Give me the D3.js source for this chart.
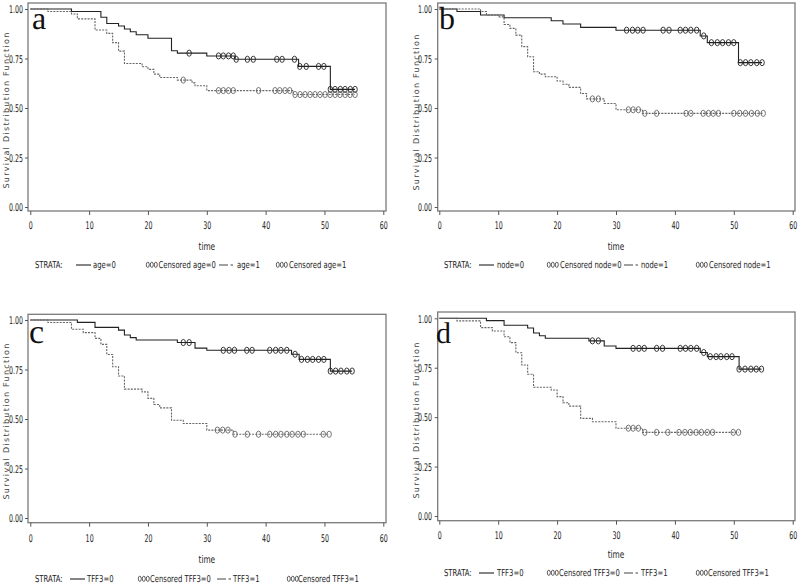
<!DOCTYPE html>
<html>
<head>
<meta charset="utf-8">
<script src="https://cdn.jsdelivr.net/npm/d3@7"></script>
<style>
  html, body { margin: 0; padding: 0; background: #fff; }
  svg { display: block; text-rendering: geometricPrecision; }
  .tick-label { font-family: "DejaVu Sans", sans-serif; font-size: 10.5px; fill: #222; }
  .leg { font-family: "DejaVu Sans", sans-serif; font-size: 9.5px; fill: #222; }
  .ylab { font-family: "DejaVu Sans", sans-serif; font-size: 8px; letter-spacing: 1.3px; fill: #444; }
  .letter { font-family: "Liberation Serif", "DejaVu Serif", serif; fill: #111; }
</style>
</head>
<body>
<svg id="chart" width="799" height="585"></svg>
<script>
// ---------------- DATA ----------------
const xTicks = [0, 10, 20, 30, 40, 50, 60];
const yTicks = [0, 0.25, 0.5, 0.75, 1.0];
const panelLetters = ["a", "b", "c", "d"];
const strataNames = ["age", "node", "TFF3", "TFF3"];
const yAxisTitle = "Survival Distribution Function";
const xAxisTitle = "time";

// Panel a : age
const aTime0 = [0, 7, 12, 13, 15, 16, 17, 18, 20, 24, 25, 30, 34.8, 45.6, 51];
const aSurv0 = [1, 0.987, 0.958, 0.927, 0.914, 0.899, 0.885, 0.870, 0.852, 0.789, 0.777, 0.763, 0.746, 0.710, 0.594];
const aCens0 = [27, 32, 32.8, 33.7, 34.5, 35, 36.9, 37.9, 41.9, 42.8, 44.9, 45.8, 46.9, 49, 49.9, 51, 51.8, 52.7, 53.5, 54.4, 55.2];
const aTime1 = [0, 3, 7, 8, 11, 13, 14, 15, 16, 19, 20, 21, 22, 25, 27.5, 28, 30, 44.7];
const aSurv1 = [1, 0.987, 0.975, 0.950, 0.894, 0.877, 0.830, 0.787, 0.725, 0.708, 0.695, 0.671, 0.654, 0.641, 0.627, 0.612, 0.588, 0.568];
const aCens1 = [26, 32, 32.8, 33.7, 34.5, 38.8, 41.6, 42.4, 43.3, 44.1, 45, 45.85, 46.7, 47.55, 48.4, 49.25, 50.1, 50.95, 51.8, 52.65, 53.5, 54.35, 55.2];

// Panel b : node
const bTime0 = [0, 3, 7, 11, 19, 21, 24, 30, 44.3, 45.5, 50.8];
const bSurv0 = [1, 0.987, 0.970, 0.956, 0.941, 0.924, 0.907, 0.893, 0.864, 0.830, 0.729];
const bCens0 = [31.8, 32.8, 33.7, 34.6, 38, 39, 40.9, 41.8, 42.7, 43.7, 44.9, 46.2, 47.2, 48.1, 49.1, 50, 51.1, 52, 52.9, 53.9, 54.8];
const bTime1 = [0, 7, 8, 10, 11, 12, 13, 14, 15, 16, 17, 18, 20, 21, 22, 24, 25, 28, 30, 34.5];
const bSurv1 = [1, 0.987, 0.970, 0.960, 0.922, 0.902, 0.868, 0.810, 0.759, 0.683, 0.671, 0.658, 0.636, 0.620, 0.604, 0.573, 0.546, 0.523, 0.491, 0.473];
const bCens1 = [26, 27, 32.1, 32.9, 33.8, 34.9, 36.9, 41.9, 42.7, 44.8, 45.7, 46.5, 47.4, 50, 51, 52, 53, 54, 55];

// Panel c : TFF3
const cTime0 = [0, 8, 11, 15, 16, 17, 18, 25, 28, 30, 44.4, 45.7, 51];
const cSurv0 = [1, 0.988, 0.963, 0.949, 0.924, 0.911, 0.899, 0.886, 0.858, 0.847, 0.827, 0.801, 0.742];
const cCens0 = [26, 27, 32.8, 33.8, 34.7, 36.8, 37.7, 40.7, 41.7, 42.6, 43.6, 45, 46.1, 47.1, 48, 49, 49.9, 51, 51.9, 52.8, 53.8, 54.7];
const cTime1 = [0, 3, 7, 9, 11, 12, 13, 14, 15, 16, 19, 20, 21, 22, 24, 26, 30, 34.5];
const cSurv1 = [1, 0.987, 0.953, 0.936, 0.907, 0.877, 0.826, 0.764, 0.717, 0.651, 0.637, 0.604, 0.573, 0.556, 0.494, 0.477, 0.444, 0.423];
const cCens1 = [31.8, 32.7, 33.6, 34.8, 36.9, 38.8, 40.7, 41.7, 42.6, 43.6, 44.5, 45.5, 46.4, 49.8, 50.8];

// Panel d : TFF3
const dTime0 = [0, 8, 11, 15, 16, 17, 18, 25.4, 28, 30, 44.3, 45.5, 50.9];
const dSurv0 = [1, 0.988, 0.965, 0.951, 0.926, 0.912, 0.899, 0.886, 0.860, 0.848, 0.827, 0.806, 0.743];
const dCens0 = [26, 27, 32.9, 33.9, 34.8, 36.9, 37.9, 40.9, 41.8, 42.7, 43.7, 44.9, 46, 47, 47.8, 48.8, 49.7, 50.9, 51.9, 52.9, 53.8, 54.7];
const dTime1 = [0, 3, 7, 9, 11, 12, 13, 14, 15, 16, 19, 20, 21, 22, 24, 26, 30, 34.5];
const dSurv1 = [1, 0.987, 0.953, 0.936, 0.907, 0.877, 0.826, 0.764, 0.717, 0.651, 0.637, 0.604, 0.573, 0.556, 0.494, 0.477, 0.444, 0.423];
const dCens1 = [32.1, 32.9, 33.8, 34.9, 36.9, 38.8, 40.7, 41.7, 42.6, 43.6, 44.5, 45.5, 46.4, 49.9, 50.8];

// ---------------- LAYOUT ----------------
const layouts = [
  { x0: 30.3, x1: 383.3, yTop: 9, yBot: 207, frame: [28, 3, 386, 211], tickBase: 229, timeBase: 250, legBase: 268,
    legX: [35, 76, 93, 146, 158.5, 219, 237, 276, 289], ylabX: 8.5, ylabY: 110, letter: [32, 29, 32], yTickRight: 23 },
  { x0: 439.3, x1: 792.7, yTop: 9, yBot: 207, frame: [437.7, 3, 795, 211], tickBase: 229, timeBase: 250, legBase: 268,
    legX: [444, 479, 497, 547, 560, 624, 641, 696, 709], ylabX: 418.5, ylabY: 112, letter: [439, 29, 32], yTickRight: 432 },
  { x0: 30.3, x1: 383.3, yTop: 320, yBot: 518, frame: [28, 314.3, 386, 522.7], tickBase: 542, timeBase: 563, legBase: 582,
    legX: [35, 70, 87, 138, 150, 217, 233, 287, 298], ylabX: 8.5, ylabY: 421, letter: [29, 343, 34], yTickRight: 23 },
  { x0: 439.3, x1: 792.7, yTop: 318.3, yBot: 516, frame: [437.7, 312, 795, 520.7], tickBase: 539, timeBase: 558, legBase: 576,
    legX: [444, 479, 497, 547, 559, 624, 641, 696, 708], ylabX: 418.5, ylabY: 420, letter: [436, 343, 30], yTickRight: 432 }
];

const panelData = [
  [[aTime0, aSurv0, aCens0], [aTime1, aSurv1, aCens1]],
  [[bTime0, bSurv0, bCens0], [bTime1, bSurv1, bCens1]],
  [[cTime0, cSurv0, cCens0], [cTime1, cSurv1, cCens1]],
  [[dTime0, dSurv0, dCens0], [dTime1, dSurv1, dCens1]]
];

const styles = [
  { stroke: "#222", dash: null, width: 1.1 },
  { stroke: "#666", dash: "2,1.2", width: 1.1 }
];

const TICK_SX = 0.6, LEG_SX = 0.72, TIME_SX = 0.7;

const svg = d3.select("#chart");

function survAt(times, surv, t) {
  let v = surv[0];
  for (let i = 0; i < times.length; i++) if (times[i] <= t + 1e-9) v = surv[i];
  return v;
}

function addText(g, cls, x, y, str, sx, anchor) {
  return g.append("text").attr("class", cls).attr("fill", "#222")
    .attr("transform", `translate(${x},${y}) scale(${sx},1)`)
    .attr("text-anchor", anchor || "start").text(str);
}

panelLetters.forEach((letter, pi) => {
  const L = layouts[pi];
  const x = d3.scaleLinear().domain([0, 60]).range([L.x0, L.x1]);
  const y = d3.scaleLinear().domain([0, 1]).range([L.yBot, L.yTop]);
  const g = svg.append("g");

  // frame
  const [fx0, fy0, fx1, fy1] = L.frame;
  g.append("rect").attr("x", fx0).attr("y", fy0).attr("width", fx1 - fx0).attr("height", fy1 - fy0)
    .attr("fill", "none").attr("stroke", "#7a7a7a").attr("stroke-width", 1.3);

  // x axis
  const xAxis = d3.axisBottom(x).tickValues(xTicks).tickSize(4).tickFormat(d3.format("d"));
  const xg = g.append("g").attr("transform", `translate(0,${fy1})`).call(xAxis);
  xg.select(".domain").remove();
  xg.selectAll(".tick line").attr("stroke", "#555");
  xg.selectAll(".tick text").attr("class", "tick-label").attr("fill", "#222").attr("y", 0).attr("dy", 0)
    .attr("transform", `translate(0,${L.tickBase - fy1}) scale(${TICK_SX},1)`);

  // y axis
  const yAxis = d3.axisLeft(y).tickValues(yTicks).tickSize(3).tickFormat(d3.format(".2f"));
  const yg = g.append("g").attr("transform", `translate(${fx0},0)`).call(yAxis);
  yg.select(".domain").remove();
  yg.selectAll(".tick line").attr("stroke", "#555");
  yg.selectAll(".tick text").attr("class", "tick-label").attr("fill", "#222").attr("x", 0).attr("dy", "0.36em")
    .attr("transform", `translate(${L.yTickRight - fx0},0) scale(${TICK_SX},1)`);

  // axis titles
  addText(g, "tick-label", (L.x0 + L.x1) / 2, L.timeBase, xAxisTitle, TIME_SX, "middle");
  g.append("text").attr("class", "ylab").attr("text-anchor", "middle")
    .attr("transform", `translate(${L.ylabX},${L.ylabY}) rotate(-90)`).text(yAxisTitle);

  // curves
  panelData[pi].forEach(([times, surv, cens], si) => {
    const st = styles[si];
    const tEnd = Math.max(times[times.length - 1], cens.length ? cens[cens.length - 1] : 0);
    const pts = times.map((t, i) => [t, surv[i]]);
    pts.push([tEnd, surv[surv.length - 1]]);
    const line = d3.line().x(d => x(d[0])).y(d => y(d[1])).curve(d3.curveStepAfter);
    const p = g.append("path").datum(pts).attr("d", line).attr("fill", "none")
      .attr("stroke", st.stroke).attr("stroke-width", st.width);
    if (st.dash) p.attr("stroke-dasharray", st.dash);
    g.selectAll(null).data(cens).enter().append("ellipse")
      .attr("cx", d => x(d)).attr("cy", d => y(survAt(times, surv, d)))
      .attr("rx", 2.2).attr("ry", 3.1)
      .attr("fill", "none").attr("stroke", st.stroke).attr("stroke-width", 0.9);
  });

  // panel letter
  g.append("text").attr("class", "letter").attr("x", L.letter[0]).attr("y", L.letter[1])
    .attr("font-size", L.letter[2] + "px").text(letter);

  // legend
  const ly = L.legBase, lx = L.legX, nm = strataNames[pi];
  addText(g, "leg", lx[0], ly, "STRATA:", LEG_SX);
  g.append("line").attr("x1", lx[1]).attr("x2", lx[1] + 15).attr("y1", ly - 3).attr("y2", ly - 3)
    .attr("stroke", "#222").attr("stroke-width", 1.1);
  addText(g, "leg", lx[2], ly, nm + "=0", LEG_SX);
  [0, 1].forEach(k => {
    const cx = k === 0 ? lx[3] : lx[7];
    [1.8, 5.8, 9.8].forEach(o => {
      g.append("ellipse").attr("cx", cx + o).attr("cy", ly - 3.2).attr("rx", 1.5).attr("ry", 2.6)
        .attr("fill", "none").attr("stroke", "#333").attr("stroke-width", 0.8);
    });
    addText(g, "leg", k === 0 ? lx[4] : lx[8], ly, "Censored " + nm + "=" + k, LEG_SX);
  });
  g.append("line").attr("x1", lx[5]).attr("x2", lx[5] + 14).attr("y1", ly - 3).attr("y2", ly - 3)
    .attr("stroke", "#444").attr("stroke-width", 1.1).attr("stroke-dasharray", "9,2.5,2.5");
  addText(g, "leg", lx[6], ly, nm + "=1", LEG_SX);
});
</script>
</body>
</html>
